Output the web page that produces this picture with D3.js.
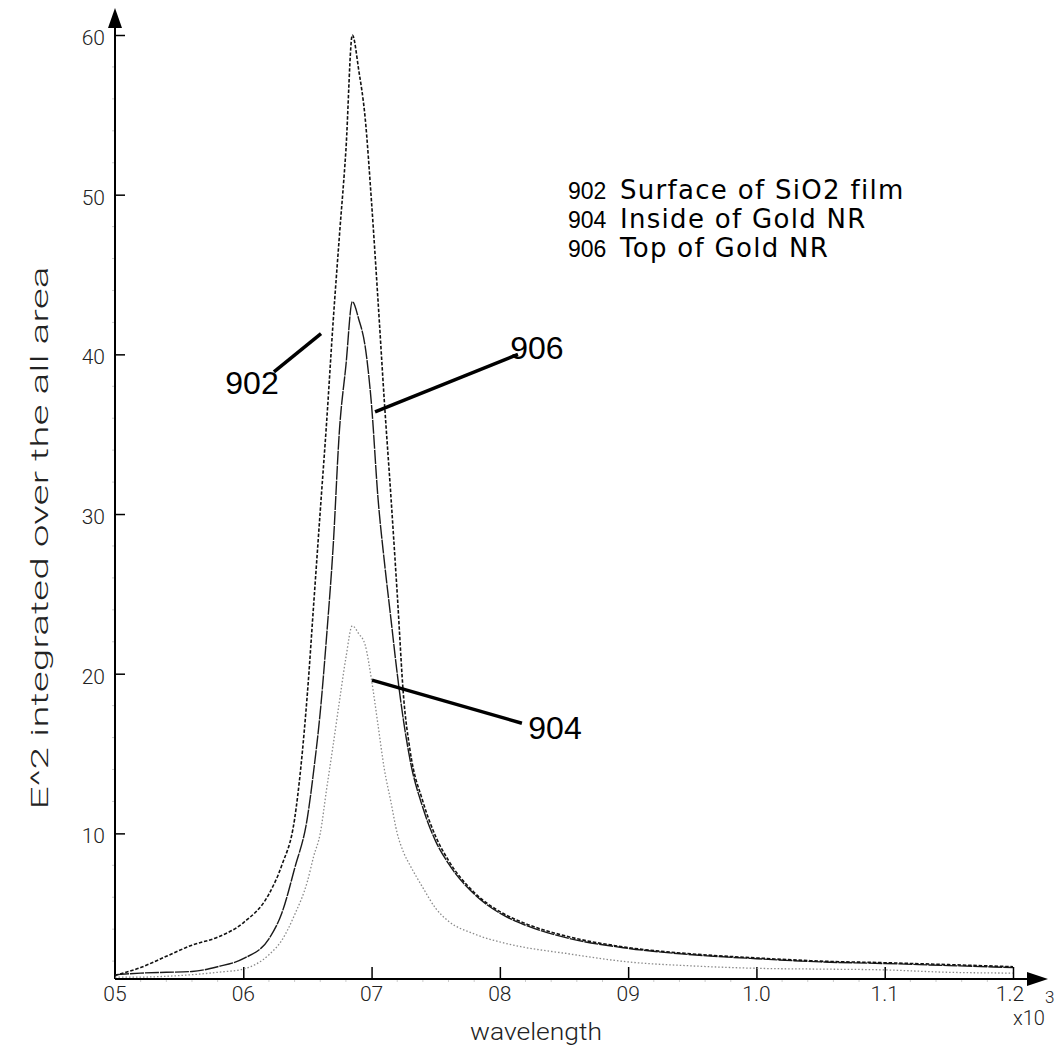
<!DOCTYPE html>
<html>
<head>
<meta charset="utf-8">
<script src="https://cdn.jsdelivr.net/npm/d3@7/dist/d3.min.js"></script>
<style>
  html, body { margin: 0; padding: 0; background: #fff; }
  svg { display: block; }
  .tick-label { font-family: Roboto, "Open Sans", sans-serif; font-weight: 300; fill: #222; }
</style>
</head>
<body>
<svg id="chart" width="1055" height="1050"></svg>
<script>
// ---- data (wavelength in units of x10^3) ----
const wavelength = [0.50, 0.52, 0.54, 0.56, 0.58, 0.60, 0.62, 0.63, 0.64, 0.65, 0.655, 0.66, 0.665, 0.67, 0.675, 0.68, 0.685, 0.69, 0.695, 0.70, 0.705, 0.71, 0.715, 0.72, 0.725, 0.73, 0.74, 0.75, 0.76, 0.78, 0.80, 0.82, 0.85, 0.90, 0.95, 1.00, 1.05, 1.10, 1.15, 1.20];
const s902 = [1.1, 1.6, 2.3, 3.0, 3.5, 4.4, 6.2, 8.0, 10.9, 18.8, 24.5, 30.2, 35.8, 42.0, 47.5, 52.8, 60.0, 57.8, 54.8, 49.5, 43.4, 37.0, 31.2, 25.0, 18.5, 15.2, 12.0, 9.8, 8.3, 6.3, 5.1, 4.35, 3.6, 2.85, 2.45, 2.2, 2.0, 1.9, 1.78, 1.65];
const s906 = [1.15, 1.25, 1.3, 1.35, 1.65, 2.15, 3.4, 5.0, 7.8, 11.0, 14.0, 17.6, 22.4, 27.9, 35.3, 39.3, 43.3, 42.2, 40.5, 36.8, 31.0, 27.0, 23.5, 20.0, 17.0, 14.6, 11.6, 9.5, 8.1, 6.2, 5.0, 4.25, 3.5, 2.8, 2.4, 2.15, 1.95, 1.85, 1.72, 1.6];
const s904 = [1.0, 1.0, 1.05, 1.15, 1.3, 1.5, 2.4, 3.3, 4.9, 7.0, 8.6, 10.0, 12.8, 15.5, 18.3, 21.0, 23.0, 22.5, 21.8, 19.6, 16.8, 14.0, 12.0, 10.0, 8.8, 8.0, 6.6, 5.3, 4.5, 3.7, 3.2, 2.85, 2.5, 1.95, 1.7, 1.55, 1.5, 1.45, 1.3, 1.25];

const xTickValues = [0.5, 0.6, 0.7, 0.8, 0.9, 1.0, 1.1, 1.2];
const xTickLabels = ["05", "06", "07", "08", "09", "1.0", "1.1", "1.2"];
const yTickValues = [10, 20, 30, 40, 50, 60];

const legendCodes = ["902", "904", "906"];
const legendNames = ["Surface of SiO2 film", "Inside of Gold NR", "Top of Gold NR"];

// annotation callouts in data units
const calloutLabels = ["902", "906", "904"];
const calloutFrom = [[0.6239, 38.9], [0.7027, 36.4], [0.7003, 19.6]];
const calloutTo   = [[0.6606, 41.3], [0.8141, 40.0], [0.8172, 16.9]];
const calloutText = [[0.6068, 37.5], [0.8289, 39.7], [0.8430, 15.9]];

// ---- chart ----
const svg = d3.select("#chart");
const x = d3.scaleLinear().domain([0.5, 1.2]).range([115, 1013]);
const y = d3.scaleLinear().domain([0.88, 60]).range([979, 35]);

const x0 = x.range()[0], yBase = y.range()[0];

// minor ticks (faint)
const yMinor = d3.range(2, 60, 2).filter(v => v % 10 !== 0);
svg.append("g").selectAll("line").data(yMinor).join("line")
  .attr("x1", x0 - 3).attr("x2", x0)
  .attr("y1", d => y(d)).attr("y2", d => y(d))
  .attr("stroke", "#ccc").attr("stroke-width", 1);
const xMinor = d3.range(0.52, 1.2, 0.02).filter(v => Math.abs(v * 10 - Math.round(v * 10)) > 1e-6);
svg.append("g").selectAll("line").data(xMinor).join("line")
  .attr("x1", d => x(d)).attr("x2", d => x(d))
  .attr("y1", yBase).attr("y2", yBase + 3)
  .attr("stroke", "#ccc").attr("stroke-width", 1);

// Y axis
const yAxis = d3.axisRight(y).tickValues(yTickValues).tickSize(10).tickFormat("");
const gy = svg.append("g").attr("transform", `translate(${x0},0)`).call(yAxis);
gy.select(".domain").remove();
gy.selectAll(".tick line").attr("stroke", "#000").attr("stroke-width", 1.5);
svg.append("line").attr("x1", x0).attr("x2", x0).attr("y1", yBase).attr("y2", 26)
  .attr("stroke", "#000").attr("stroke-width", 2);
svg.append("path").attr("d", `M${x0},8 L${x0 - 7},28 L${x0 + 7},28 Z`).attr("fill", "#000");
svg.append("g").selectAll("text").data(yTickValues).join("text")
  .attr("class", "tick-label")
  .attr("x", x0 - 10).attr("y", d => y(d) + 10)
  .attr("text-anchor", "end").attr("font-size", 21)
  .text(d => d);

// X axis
const xAxis = d3.axisTop(x).tickValues(xTickValues.slice(1)).tickSize(12).tickFormat("");
const gx = svg.append("g").attr("transform", `translate(0,${yBase})`).call(xAxis);
gx.select(".domain").remove();
gx.selectAll(".tick line").attr("stroke", "#000").attr("stroke-width", 1.5);
svg.append("line").attr("x1", x0).attr("x2", 1030).attr("y1", yBase).attr("y2", yBase)
  .attr("stroke", "#000").attr("stroke-width", 2);
svg.append("path").attr("d", `M1048,${yBase} L1027,${yBase - 7} L1027,${yBase + 7} Z`).attr("fill", "#000");
svg.append("g").selectAll("text").data(xTickValues).join("text")
  .attr("class", "tick-label")
  .attr("x", (d, i) => x(d) - (i === xTickValues.length - 1 ? 3 : 0)).attr("y", yBase + 22)
  .attr("text-anchor", "middle").attr("font-size", 21)
  .text((d, i) => xTickLabels[i]);

// x10^3
svg.append("text").attr("class", "tick-label").attr("x", 1013).attr("y", 1025)
  .attr("font-size", 20).text("x10");
svg.append("text").attr("class", "tick-label").attr("x", 1045).attr("y", 1003)
  .attr("font-size", 17).text("3");

// axis titles
svg.append("text").attr("class", "tick-label")
  .attr("x", 536).attr("y", 1040).attr("text-anchor", "middle")
  .attr("font-size", 23).attr("textLength", 132).attr("lengthAdjust", "spacingAndGlyphs")
  .text("wavelength");
svg.append("text").attr("class", "tick-label")
  .attr("transform", "translate(48,538) rotate(-90)")
  .attr("text-anchor", "middle")
  .attr("font-size", 24).attr("textLength", 543).attr("lengthAdjust", "spacingAndGlyphs")
  .text("E^2 integrated over the all area");

// series
const line = d3.line().curve(d3.curveMonotoneX).x((d, i) => x(wavelength[i])).y(d => y(d));
const series = [
  { data: s904, stroke: "#8a8a8a", width: 1.3, dash: "1.5,2" },
  { data: s906, stroke: "#1a1a1a", width: 1.4, dash: "14,1" },
  { data: s902, stroke: "#111", width: 1.6, dash: "3.5,1.8" }
];
svg.append("g").selectAll("path").data(series).join("path")
  .attr("d", d => line(d.data))
  .attr("fill", "none")
  .attr("stroke", d => d.stroke)
  .attr("stroke-width", d => d.width)
  .attr("stroke-dasharray", d => d.dash);

// callouts
const gc = svg.append("g");
gc.selectAll("line").data(calloutLabels).join("line")
  .attr("x1", (d, i) => x(calloutFrom[i][0])).attr("y1", (d, i) => y(calloutFrom[i][1]))
  .attr("x2", (d, i) => x(calloutTo[i][0])).attr("y2", (d, i) => y(calloutTo[i][1]))
  .attr("stroke", "#000").attr("stroke-width", 3.5);
gc.selectAll("text").data(calloutLabels).join("text")
  .attr("x", (d, i) => x(calloutText[i][0])).attr("y", (d, i) => y(calloutText[i][1]))
  .attr("text-anchor", "middle")
  .attr("font-family", "'Liberation Sans', Arial, sans-serif")
  .attr("font-size", 32).attr("fill", "#000")
  .text(d => d);

// legend
const gl = svg.append("g").attr("fill", "#000");
gl.selectAll("text.code").data(legendCodes).join("text").attr("class", "code")
  .attr("font-family", "'Liberation Sans', Arial, sans-serif").attr("font-size", 23)
  .attr("x", 568).attr("y", (d, i) => 199 + i * 29).text(d => d);
gl.selectAll("text.name").data(legendNames).join("text").attr("class", "name")
  .attr("font-family", "'DejaVu Sans', Verdana, sans-serif").attr("font-size", 26)
  .attr("letter-spacing", 1.3)
  .attr("x", 620).attr("y", (d, i) => 199 + i * 29).text(d => d);
</script>
</body>
</html>
